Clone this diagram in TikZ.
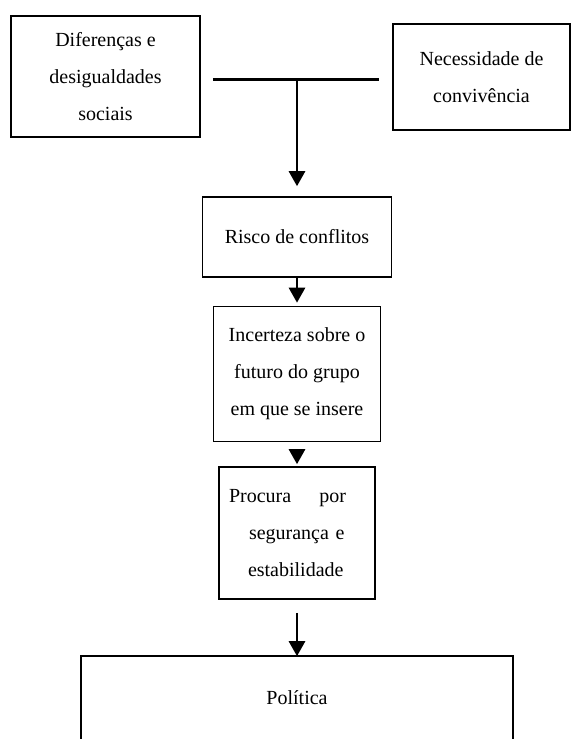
\documentclass[tikz,border=0pt]{standalone}
\usepackage{fontspec}
\setmainfont{Liberation Serif}
\usetikzlibrary{arrows.meta}

\begin{document}
\begin{tikzpicture}[x=1pt, y=-1pt,
	box/.style 2 args={
		draw,
		line width=1.6pt,
		minimum width=#1,
		minimum height=#2,
		inner sep=0pt,
		align=center,
		font=\fontsize{20pt}{37pt}\selectfont},
	arr/.style={-{Triangle[length=15pt,width=16pt]}, line width=2.8pt},
	bar/.style={line width=3pt}]
	\useasboundingbox (0,0) rectangle (572,739);
	% draw the two starting boxes
	\node[box={189pt}{121pt}] (dif) at (105.5,76.5) {Diferenças e\\desigualdades\\sociais};
	\node[box={177pt}{106pt}] (nec) at (481.5,77) {Necessidade de\\convivência};
	% draw the chain of boxes
	\node[box={189pt}{80pt}] (risco) at (297,237) {Risco de conflitos};
	\node[box={167pt}{135pt}] (incert) at (297,374) {Incerteza sobre o\\futuro do grupo\\em que se insere};
	\node[box={156pt}{132pt}, align=left, text width=136pt] (procura) at (297,533) {\makebox[117pt]{Procura\hfill por}\\\hspace*{20pt}segurança e\\\hspace*{19pt}estabilidade};
	\node[box={430pt}{82pt}, draw=none] (pol) at (297,698) {Política};
	% the last box is open at the bottom
	\draw[line width=1.6pt] (pol.south west) -- (pol.north west) -- (pol.north east) -- (pol.south east);
	% draw the junction line and the arrow down from it
	\coordinate (join) at (297,79);
	\draw[bar, shorten <=12pt, shorten >=13pt] (dif.east |- join) -- (nec.west |- join);
	\draw[arr, shorten >=10pt] (join) -- (join |- risco.north);
	% draw the arrows of the chain
	\draw[arr, shorten >=3pt] (risco.south) -- (incert.north);
	\draw[arr, shorten <=8pt, shorten >=2pt] (incert.south) -- (procura.north);
	\draw[arr, shorten <=13pt] (procura.south) -- (pol.north);
\end{tikzpicture}
\end{document}
